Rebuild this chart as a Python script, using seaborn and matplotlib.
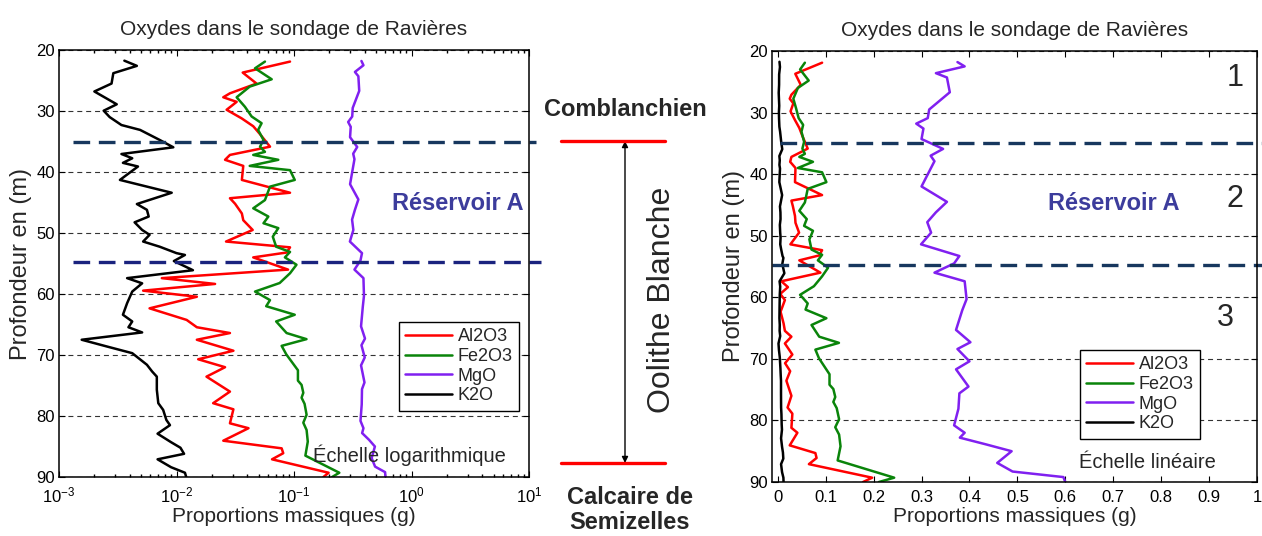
import matplotlib
matplotlib.use("Agg")
import matplotlib.pyplot as plt
import seaborn as sns

# depth (m) / mass proportion (g)
depth_al2o3 = [21.9, 23.7, 25.5, 27.1, 27.75, 28.5, 29.8, 31.2, 32.5, 33.8, 35.85, 37.2, 38.0,
               39.0, 41.3, 43.4, 44.3, 45.2, 46.8, 47.9, 49.5, 51.4, 52.35, 53.2, 54.0, 56.0,
               57.4, 58.35, 59.45, 60.45, 62.35, 64.25, 65.45, 66.4, 67.5, 69.3, 70.7, 72.0,
               73.55, 76.0, 77.9, 78.9, 81.2, 82.0, 84.05, 85.3, 86.1, 87.1, 89.3, 90.0]
al2o3 = [0.0925, 0.0366, 0.048, 0.0285, 0.025, 0.0325, 0.0267, 0.0358, 0.045, 0.0514, 0.0625,
         0.0285, 0.0259, 0.037, 0.036, 0.0925, 0.0285, 0.0315, 0.036, 0.037, 0.0445, 0.0264,
         0.0925, 0.0865, 0.045, 0.089, 0.0075, 0.0213, 0.0052, 0.0149, 0.0059, 0.0122, 0.0149,
         0.0285, 0.0149, 0.0305, 0.0153, 0.0259, 0.018, 0.0285, 0.0205, 0.0305, 0.0285, 0.041,
         0.025, 0.0785, 0.081, 0.065, 0.197, 0.178]

depth_fe2o3 = [21.9, 23.0, 24.8, 26.0, 27.75, 29.3, 30.9, 32.0, 33.1, 34.75, 35.85, 36.7, 37.2,
               38.0, 39.0, 39.7, 41.3, 42.4, 44.6, 45.95, 47.3, 48.4, 49.2, 50.6, 52.25, 53.1,
               54.0, 55.2, 56.6, 58.2, 59.6, 61.0, 62.0, 63.4, 64.5, 66.4, 67.4, 68.5, 69.9,
               72.5, 74.2, 74.9, 76.2, 77.0, 78.0, 79.8, 81.1, 82.3, 84.2, 86.5, 89.3, 90.0]
fe2o3 = [0.0566, 0.0466, 0.0646, 0.042, 0.0325, 0.0382, 0.0436, 0.053, 0.0495, 0.055, 0.0514,
         0.0566, 0.045, 0.0735, 0.042, 0.0925, 0.1015, 0.0625, 0.0566, 0.045, 0.0605, 0.055,
         0.0735, 0.066, 0.0705, 0.0925, 0.0837, 0.105, 0.0925, 0.0755, 0.0466, 0.0625, 0.058,
         0.1015, 0.0705, 0.0865, 0.1277, 0.0785, 0.086, 0.108, 0.108, 0.116, 0.12, 0.116,
         0.123, 0.128, 0.12, 0.128, 0.131, 0.125, 0.243, 0.211]

depth_mgo = [21.8, 22.5, 23.6, 24.3, 26.7, 29.5, 30.9, 31.8, 32.6, 34.3, 35.9, 37.0, 37.9, 42.0,
             44.5, 46.2, 47.8, 49.5, 51.4, 53.3, 54.5, 56.0, 57.4, 60.3, 62.1, 65.3, 67.3,
             68.4, 70.4, 71.7, 74.5, 75.6, 78.1, 80.8, 82.0, 82.8, 83.9, 85.0, 86.9, 88.3,
             89.2, 90.0]
mgo = [0.375, 0.39, 0.33, 0.353, 0.359, 0.316, 0.313, 0.289, 0.304, 0.30, 0.345, 0.319, 0.327,
       0.30, 0.353, 0.33, 0.312, 0.32, 0.299, 0.379, 0.368, 0.327, 0.39, 0.394, 0.385, 0.372,
       0.402, 0.375, 0.40, 0.372, 0.398, 0.379, 0.377, 0.368, 0.39, 0.38, 0.435, 0.488, 0.458,
       0.49, 0.596, 0.60]

depth_k2o = [21.75, 22.6, 23.8, 25.5, 26.8, 28.9, 29.95, 31.0, 32.3, 33.1, 34.75, 35.95, 37.05,
             37.75, 38.5, 39.1, 41.3, 43.4, 45.25, 46.2, 47.3, 48.25, 49.5, 50.3, 51.4, 52.25,
             53.3, 53.6, 54.6, 56.1, 57.4, 58.25, 59.6, 61.5, 63.4, 64.5, 65.45, 66.3, 67.5,
             68.6, 69.7, 71.6, 72.7, 73.55, 75.7, 77.9, 79.0, 80.65, 81.5, 82.9, 84.3, 85.2,
             86.2, 87.1, 88.4, 89.3, 90.0]
k2o = [0.0036, 0.0046, 0.0029, 0.0028, 0.0020, 0.0031, 0.0024, 0.0027, 0.0034, 0.0049, 0.0072,
       0.0094, 0.0034, 0.0042, 0.0035, 0.0047, 0.0033, 0.0091, 0.0046, 0.0056, 0.0058, 0.0044,
       0.0051, 0.0059, 0.0052, 0.0072, 0.0100, 0.0118, 0.0095, 0.0138, 0.0038, 0.0051, 0.0042,
       0.0038, 0.0035, 0.0042, 0.0039, 0.0051, 0.00156, 0.00255, 0.0042, 0.0056, 0.0062,
       0.0068, 0.0068, 0.0070, 0.0077, 0.0082, 0.0088, 0.0069, 0.0090, 0.0108, 0.0116, 0.0069,
       0.0090, 0.0118, 0.0121]

reservoir_depths = [35.0, 54.7]
depth_ticks = [20, 30, 40, 50, 60, 70, 80, 90]
lin_ticks = [0, 0.1, 0.2, 0.3, 0.4, 0.5, 0.6, 0.7, 0.8, 0.9, 1.0]
lin_labels = ["0", "0.1", "0.2", "0.3", "0.4", "0.5", "0.6", "0.7", "0.8", "0.9", "1"]

series = [("Al2O3", depth_al2o3, al2o3, "#ff0000"),
          ("Fe2O3", depth_fe2o3, fe2o3, "#0a840a"),
          ("MgO", depth_mgo, mgo, "#8020f0"),
          ("K2O", depth_k2o, k2o, "black")]

sns.set_theme(style="white")
plt.rcParams.update({
    "font.family": ["Liberation Sans", "DejaVu Sans"],
    "mathtext.default": "regular",
    "axes.edgecolor": "black",
    "axes.linewidth": 1.1,
    "xtick.direction": "in",
    "ytick.direction": "in",
    "xtick.top": True,
    "ytick.right": True,
    "xtick.bottom": True,
    "ytick.left": True,
    "xtick.color": "black",
    "ytick.color": "black",
    "xtick.major.size": 4,
    "ytick.major.size": 4,
    "xtick.minor.size": 2.5,
    "xtick.major.width": 0.8,
    "ytick.major.width": 0.8,
    "xtick.labelsize": 12,
    "ytick.labelsize": 12,
})

W, H = 1262, 536
fig = plt.figure(figsize=(W / 100, H / 100), dpi=100)


def box(l, t, r, b):
    return [l / W, 1 - b / H, (r - l) / W, (b - t) / H]


ax1 = fig.add_axes(box(59, 50, 529, 477))
ax2 = fig.add_axes(box(772, 51, 1257, 482))

for ax in (ax1, ax2):
    for name, d, v, c in series:
        sns.lineplot(x=v, y=d, sort=False, estimator=None, color=c, lw=1.8,
                     label=name, ax=ax, legend=False)
    ax.set_ylim(90, 20)
    ax.set_yticks(depth_ticks)
    ax.yaxis.grid(True, color="#333333", lw=0.8, ls=(0, (4.5, 3.5)))
    ax.xaxis.grid(False)
    ax.set_title("Oxydes dans le sondage de Ravières", fontsize=15, pad=11)
    ax.set_xlabel("Proportions massiques (g)", fontsize=15, labelpad=1)
    ax.set_ylabel("Profondeur en (m)", fontsize=17, labelpad=3)
    ax.tick_params(axis="x", which="both", pad=6)
    ax.tick_params(axis="y", pad=3)
    for sp in ax.spines.values():
        sp.set_visible(True)

ax1.set_xscale("log")
ax1.set_xlim(1e-3, 10)
ax2.set_xlim(-0.012, 1.0)
ax2.set_xticks(lin_ticks)
ax2.set_xticklabels(lin_labels)

# reservoir limits, running past the frame
tr1 = ax1.get_yaxis_transform()
ax1.plot([0.03, 1.015], [reservoir_depths[0]] * 2, transform=tr1, clip_on=False,
         color="#17375e", lw=2.4, ls=(0, (5, 2.6)))
ax1.plot([0.03, 1.025], [reservoir_depths[1]] * 2, transform=tr1, clip_on=False,
         color="#1a237e", lw=2.4, ls=(0, (5, 2.6)))
tr2 = ax2.get_yaxis_transform()
ax2.plot([0.016, 1.012], [reservoir_depths[0]] * 2, transform=tr2, clip_on=False,
         color="#17375e", lw=2.4, ls=(0, (5, 2.6)))
ax2.plot([0.0, 1.012], [reservoir_depths[1]] * 2, transform=tr2, clip_on=False,
         color="#17375e", lw=2.4, ls=(0, (5, 2.6)))

leg_kw = dict(loc="upper left", fontsize=13, frameon=True, fancybox=False,
              edgecolor="black", framealpha=1, borderaxespad=0, handlelength=2.6,
              labelspacing=0.15, borderpad=0.35, handletextpad=0.3)
l1 = ax1.legend(bbox_to_anchor=(399 / W, 1 - 322 / H), bbox_transform=fig.transFigure, **leg_kw)
l2 = ax2.legend(bbox_to_anchor=(1080 / W, 1 - 350 / H), bbox_transform=fig.transFigure, **leg_kw)
for lg in (l1, l2):
    lg.get_frame().set_linewidth(1.0)

blue = "#3c3c9c"


def ftext(x, y, s, **kw):
    fig.text(x / W, 1 - y / H, s, ha="center", va="center", **kw)


ftext(458, 204, "Réservoir A", fontsize=17, fontweight="bold", color=blue)
ftext(1114, 204, "Réservoir A", fontsize=17, fontweight="bold", color=blue)
ftext(409, 455, "Échelle logarithmique", fontsize=14.5)
ftext(1147, 463, "Échelle linéaire", fontsize=14.5)
ftext(1235, 78, "1", fontsize=22)
ftext(1235, 199, "2", fontsize=22)
ftext(1225, 318, "3", fontsize=22)

# formation column between the two logs
ftext(625, 110, "Comblanchien", fontsize=17, fontweight="bold")
ftext(630, 510, "Calcaire de\nSemizelles", fontsize=17, fontweight="bold", linespacing=1.1)
ftext(662, 300, "Oolithe Blanche", fontsize=23, rotation=90)
red_y = [141, 463]
for yy in red_y:
    fig.add_artist(plt.Line2D([561 / W, 665 / W], [1 - yy / H] * 2, color="#ff0000", lw=2.4))
ax1.annotate("", xy=(625 / W, 1 - 141 / H), xytext=(625 / W, 1 - 463 / H),
             xycoords="figure fraction", textcoords="figure fraction",
             arrowprops=dict(arrowstyle="<|-|>", color="black", lw=1.0, mutation_scale=9,
                             shrinkA=0, shrinkB=0))

fig.savefig("out.png", dpi=100)
